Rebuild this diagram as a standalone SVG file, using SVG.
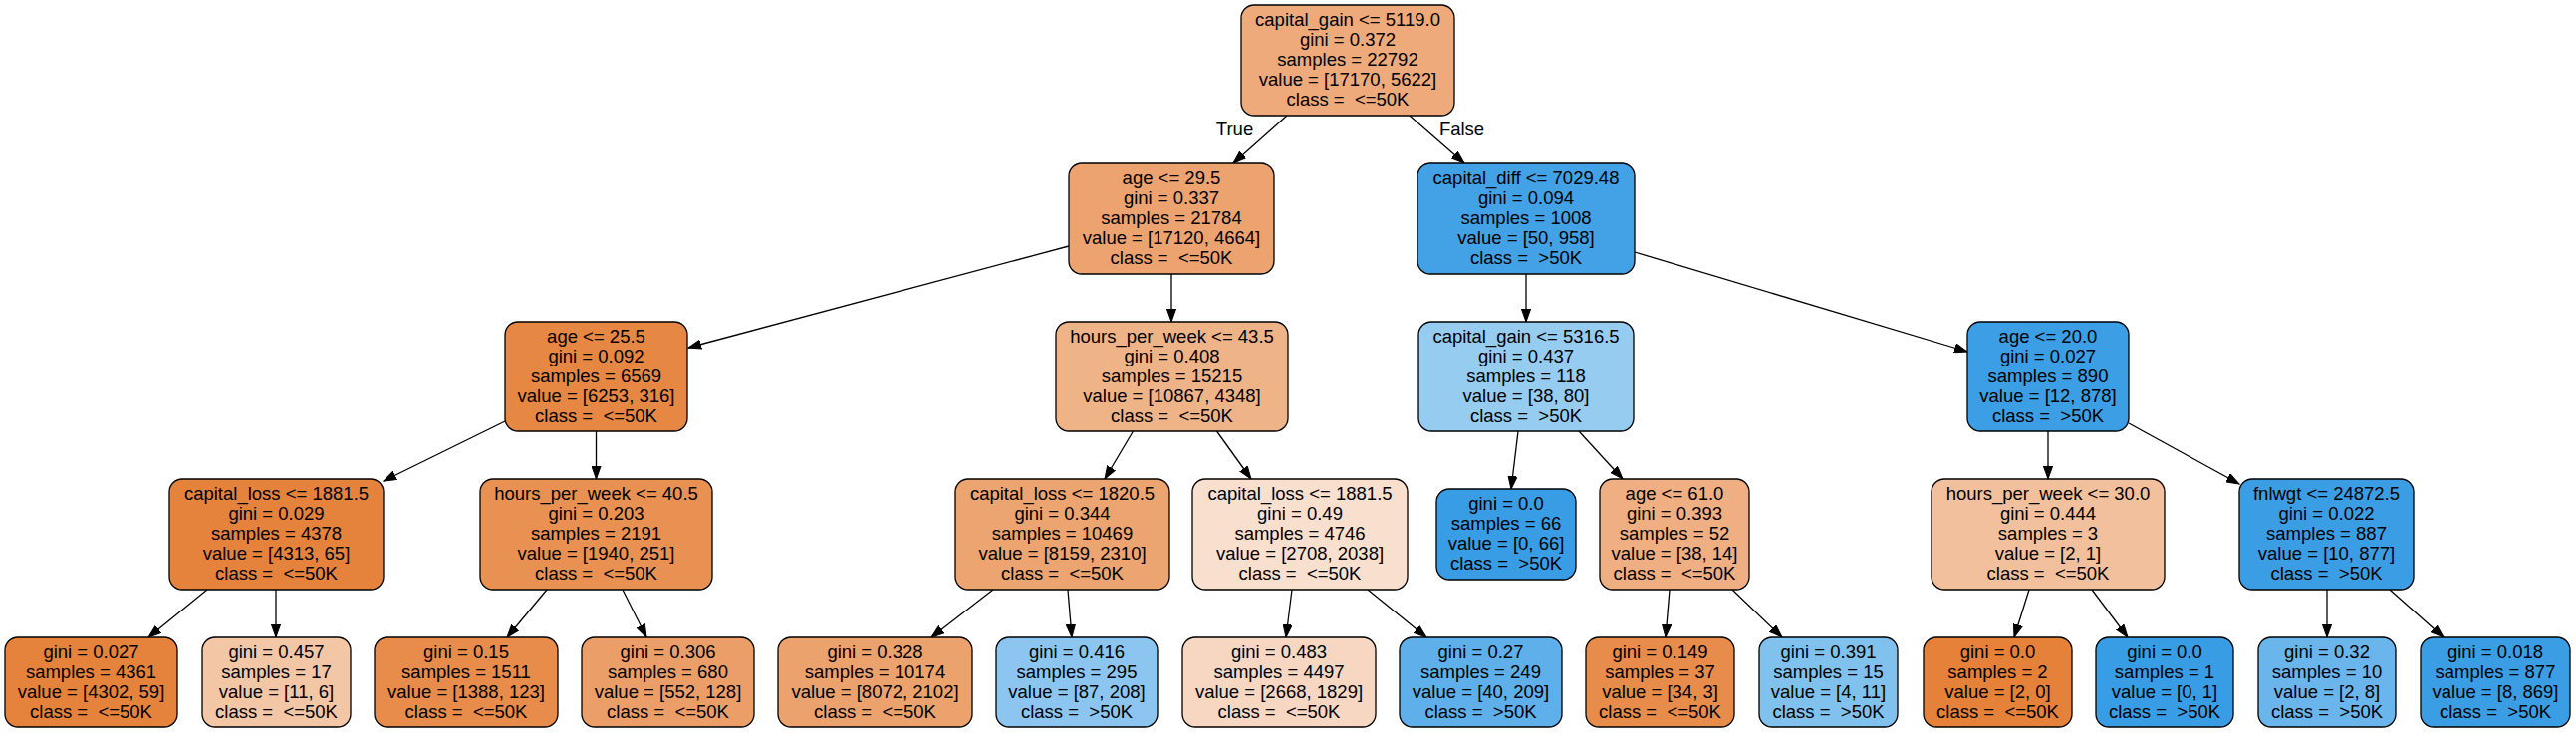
<svg xmlns="http://www.w3.org/2000/svg" width="2586" height="736" viewBox="0 0 2586 736">
<defs>
<style>
.n rect{stroke:#000;stroke-width:1.3}
text{font-family:"Liberation Sans",Arial,Helvetica,sans-serif;font-size:18.5px;text-anchor:middle;fill:#000;white-space:pre}
#edges line{stroke:#000;stroke-width:1.3;marker-end:url(#ah)}
</style>
<marker id="ah" markerUnits="userSpaceOnUse" markerWidth="14" markerHeight="10" viewBox="0 -5 14 10" refX="13" refY="0" orient="auto">
<path d="M0,-4.6 L13,0 L0,4.6 z" fill="#000" stroke="#000" stroke-width="1"/>
</marker>
</defs>
<rect width="2586" height="736" fill="#fff"/>
<g id="edges">
<line x1="1292" y1="116" x2="1238" y2="164"/>
<line x1="1415" y1="116" x2="1470" y2="164"/>
<line x1="1073" y1="247" x2="691" y2="349"/>
<line x1="1176" y1="275" x2="1176" y2="323"/>
<line x1="1532" y1="275" x2="1532" y2="323"/>
<line x1="1641" y1="253" x2="1975" y2="353"/>
<line x1="507" y1="423" x2="385" y2="483"/>
<line x1="598.5" y1="433" x2="598.5" y2="481"/>
<line x1="1137.5" y1="433" x2="1109" y2="481"/>
<line x1="1221.5" y1="433" x2="1256" y2="481"/>
<line x1="1524" y1="433" x2="1517" y2="491"/>
<line x1="1585" y1="433" x2="1629" y2="481"/>
<line x1="2056" y1="433" x2="2056" y2="481"/>
<line x1="2137" y1="425" x2="2248" y2="486"/>
<line x1="208" y1="592" x2="149" y2="640"/>
<line x1="277" y1="592" x2="277" y2="640"/>
<line x1="549" y1="592" x2="509" y2="640"/>
<line x1="625" y1="592" x2="649" y2="640"/>
<line x1="997" y1="592" x2="935" y2="640"/>
<line x1="1072" y1="592" x2="1076" y2="640"/>
<line x1="1297" y1="592" x2="1291" y2="640"/>
<line x1="1373" y1="592" x2="1432" y2="640"/>
<line x1="1676" y1="592" x2="1672" y2="640"/>
<line x1="1739" y1="592" x2="1789" y2="640"/>
<line x1="2037" y1="592" x2="2022" y2="640"/>
<line x1="2100" y1="592" x2="2136" y2="640"/>
<line x1="2336" y1="592" x2="2336" y2="640"/>
<line x1="2399" y1="592" x2="2453" y2="640"/>
<text x="1239.5" y="136">True</text>
<text x="1467.5" y="136">False</text>
</g>
<g id="n0" class="n"><rect x="1246" y="5" width="214" height="111" rx="13" fill="#eeaa7a"/>
<text><tspan x="1353" y="26">capital_gain &lt;= 5119.0</tspan><tspan x="1353" y="46">gini = 0.372</tspan><tspan x="1353" y="66">samples = 22792</tspan><tspan x="1353" y="86">value = [17170, 5622]</tspan><tspan x="1353" y="106">class =  &lt;=50K</tspan></text></g>
<g id="n1" class="n"><rect x="1073" y="164" width="206" height="111" rx="13" fill="#eca36f"/>
<text><tspan x="1176" y="185">age &lt;= 29.5</tspan><tspan x="1176" y="205">gini = 0.337</tspan><tspan x="1176" y="225">samples = 21784</tspan><tspan x="1176" y="245">value = [17120, 4664]</tspan><tspan x="1176" y="265">class =  &lt;=50K</tspan></text></g>
<g id="n2" class="n"><rect x="1423" y="164" width="218" height="111" rx="13" fill="#43a2e6"/>
<text><tspan x="1532" y="185">capital_diff &lt;= 7029.48</tspan><tspan x="1532" y="205">gini = 0.094</tspan><tspan x="1532" y="225">samples = 1008</tspan><tspan x="1532" y="245">value = [50, 958]</tspan><tspan x="1532" y="265">class =  &gt;50K</tspan></text></g>
<g id="n3" class="n"><rect x="507" y="323" width="183" height="110" rx="13" fill="#e68743"/>
<text><tspan x="598.5" y="344">age &lt;= 25.5</tspan><tspan x="598.5" y="364">gini = 0.092</tspan><tspan x="598.5" y="384">samples = 6569</tspan><tspan x="598.5" y="404">value = [6253, 316]</tspan><tspan x="598.5" y="424">class =  &lt;=50K</tspan></text></g>
<g id="n4" class="n"><rect x="1060" y="323" width="233" height="110" rx="13" fill="#efb388"/>
<text><tspan x="1176.5" y="344">hours_per_week &lt;= 43.5</tspan><tspan x="1176.5" y="364">gini = 0.408</tspan><tspan x="1176.5" y="384">samples = 15215</tspan><tspan x="1176.5" y="404">value = [10867, 4348]</tspan><tspan x="1176.5" y="424">class =  &lt;=50K</tspan></text></g>
<g id="n5" class="n"><rect x="1424" y="323" width="216" height="110" rx="13" fill="#97ccf1"/>
<text><tspan x="1532" y="344">capital_gain &lt;= 5316.5</tspan><tspan x="1532" y="364">gini = 0.437</tspan><tspan x="1532" y="384">samples = 118</tspan><tspan x="1532" y="404">value = [38, 80]</tspan><tspan x="1532" y="424">class =  &gt;50K</tspan></text></g>
<g id="n6" class="n"><rect x="1975" y="323" width="162" height="110" rx="13" fill="#3c9ee5"/>
<text><tspan x="2056" y="344">age &lt;= 20.0</tspan><tspan x="2056" y="364">gini = 0.027</tspan><tspan x="2056" y="384">samples = 890</tspan><tspan x="2056" y="404">value = [12, 878]</tspan><tspan x="2056" y="424">class =  &gt;50K</tspan></text></g>
<g id="n7" class="n"><rect x="170" y="481" width="215" height="111" rx="13" fill="#e5833c"/>
<text><tspan x="277.5" y="502">capital_loss &lt;= 1881.5</tspan><tspan x="277.5" y="522">gini = 0.029</tspan><tspan x="277.5" y="542">samples = 4378</tspan><tspan x="277.5" y="562">value = [4313, 65]</tspan><tspan x="277.5" y="582">class =  &lt;=50K</tspan></text></g>
<g id="n8" class="n"><rect x="482" y="481" width="233" height="111" rx="13" fill="#e89153"/>
<text><tspan x="598.5" y="502">hours_per_week &lt;= 40.5</tspan><tspan x="598.5" y="522">gini = 0.203</tspan><tspan x="598.5" y="542">samples = 2191</tspan><tspan x="598.5" y="562">value = [1940, 251]</tspan><tspan x="598.5" y="582">class =  &lt;=50K</tspan></text></g>
<g id="n9" class="n"><rect x="959" y="481" width="215" height="111" rx="13" fill="#eca571"/>
<text><tspan x="1066.5" y="502">capital_loss &lt;= 1820.5</tspan><tspan x="1066.5" y="522">gini = 0.344</tspan><tspan x="1066.5" y="542">samples = 10469</tspan><tspan x="1066.5" y="562">value = [8159, 2310]</tspan><tspan x="1066.5" y="582">class =  &lt;=50K</tspan></text></g>
<g id="n10" class="n"><rect x="1197" y="481" width="216" height="111" rx="13" fill="#f9e0ce"/>
<text><tspan x="1305" y="502">capital_loss &lt;= 1881.5</tspan><tspan x="1305" y="522">gini = 0.49</tspan><tspan x="1305" y="542">samples = 4746</tspan><tspan x="1305" y="562">value = [2708, 2038]</tspan><tspan x="1305" y="582">class =  &lt;=50K</tspan></text></g>
<g id="n11" class="n"><rect x="1442" y="491" width="140" height="91" rx="13" fill="#399de5"/>
<text><tspan x="1512" y="512">gini = 0.0</tspan><tspan x="1512" y="532">samples = 66</tspan><tspan x="1512" y="552">value = [0, 66]</tspan><tspan x="1512" y="572">class =  &gt;50K</tspan></text></g>
<g id="n12" class="n"><rect x="1606" y="481" width="150" height="111" rx="13" fill="#efaf82"/>
<text><tspan x="1681" y="502">age &lt;= 61.0</tspan><tspan x="1681" y="522">gini = 0.393</tspan><tspan x="1681" y="542">samples = 52</tspan><tspan x="1681" y="562">value = [38, 14]</tspan><tspan x="1681" y="582">class =  &lt;=50K</tspan></text></g>
<g id="n13" class="n"><rect x="1939" y="481" width="234" height="111" rx="13" fill="#f2c09c"/>
<text><tspan x="2056" y="502">hours_per_week &lt;= 30.0</tspan><tspan x="2056" y="522">gini = 0.444</tspan><tspan x="2056" y="542">samples = 3</tspan><tspan x="2056" y="562">value = [2, 1]</tspan><tspan x="2056" y="582">class =  &lt;=50K</tspan></text></g>
<g id="n14" class="n"><rect x="2248" y="481" width="175" height="111" rx="13" fill="#3b9ee5"/>
<text><tspan x="2335.5" y="502">fnlwgt &lt;= 24872.5</tspan><tspan x="2335.5" y="522">gini = 0.022</tspan><tspan x="2335.5" y="542">samples = 887</tspan><tspan x="2335.5" y="562">value = [10, 877]</tspan><tspan x="2335.5" y="582">class =  &gt;50K</tspan></text></g>
<g id="n15" class="n"><rect x="5" y="640" width="173" height="90" rx="13" fill="#e5833c"/>
<text><tspan x="91.5" y="661">gini = 0.027</tspan><tspan x="91.5" y="681">samples = 4361</tspan><tspan x="91.5" y="701">value = [4302, 59]</tspan><tspan x="91.5" y="721">class =  &lt;=50K</tspan></text></g>
<g id="n16" class="n"><rect x="203" y="640" width="149" height="90" rx="13" fill="#f3c6a5"/>
<text><tspan x="277.5" y="661">gini = 0.457</tspan><tspan x="277.5" y="681">samples = 17</tspan><tspan x="277.5" y="701">value = [11, 6]</tspan><tspan x="277.5" y="721">class =  &lt;=50K</tspan></text></g>
<g id="n17" class="n"><rect x="376" y="640" width="184" height="90" rx="13" fill="#e78c4b"/>
<text><tspan x="468" y="661">gini = 0.15</tspan><tspan x="468" y="681">samples = 1511</tspan><tspan x="468" y="701">value = [1388, 123]</tspan><tspan x="468" y="721">class =  &lt;=50K</tspan></text></g>
<g id="n18" class="n"><rect x="584" y="640" width="173" height="90" rx="13" fill="#eb9e67"/>
<text><tspan x="670.5" y="661">gini = 0.306</tspan><tspan x="670.5" y="681">samples = 680</tspan><tspan x="670.5" y="701">value = [552, 128]</tspan><tspan x="670.5" y="721">class =  &lt;=50K</tspan></text></g>
<g id="n19" class="n"><rect x="781" y="640" width="195" height="90" rx="13" fill="#eca26d"/>
<text><tspan x="878.5" y="661">gini = 0.328</tspan><tspan x="878.5" y="681">samples = 10174</tspan><tspan x="878.5" y="701">value = [8072, 2102]</tspan><tspan x="878.5" y="721">class =  &lt;=50K</tspan></text></g>
<g id="n20" class="n"><rect x="1000" y="640" width="162" height="90" rx="13" fill="#8cc6f0"/>
<text><tspan x="1081" y="661">gini = 0.416</tspan><tspan x="1081" y="681">samples = 295</tspan><tspan x="1081" y="701">value = [87, 208]</tspan><tspan x="1081" y="721">class =  &gt;50K</tspan></text></g>
<g id="n21" class="n"><rect x="1187" y="640" width="194" height="90" rx="13" fill="#f7d7c1"/>
<text><tspan x="1284" y="661">gini = 0.483</tspan><tspan x="1284" y="681">samples = 4497</tspan><tspan x="1284" y="701">value = [2668, 1829]</tspan><tspan x="1284" y="721">class =  &lt;=50K</tspan></text></g>
<g id="n22" class="n"><rect x="1405" y="640" width="163" height="90" rx="13" fill="#5fb0ea"/>
<text><tspan x="1486.5" y="661">gini = 0.27</tspan><tspan x="1486.5" y="681">samples = 249</tspan><tspan x="1486.5" y="701">value = [40, 209]</tspan><tspan x="1486.5" y="721">class =  &gt;50K</tspan></text></g>
<g id="n23" class="n"><rect x="1592" y="640" width="149" height="90" rx="13" fill="#e78c4a"/>
<text><tspan x="1666.5" y="661">gini = 0.149</tspan><tspan x="1666.5" y="681">samples = 37</tspan><tspan x="1666.5" y="701">value = [34, 3]</tspan><tspan x="1666.5" y="721">class =  &lt;=50K</tspan></text></g>
<g id="n24" class="n"><rect x="1766" y="640" width="139" height="90" rx="13" fill="#81c1ee"/>
<text><tspan x="1835.5" y="661">gini = 0.391</tspan><tspan x="1835.5" y="681">samples = 15</tspan><tspan x="1835.5" y="701">value = [4, 11]</tspan><tspan x="1835.5" y="721">class =  &gt;50K</tspan></text></g>
<g id="n25" class="n"><rect x="1931" y="640" width="149" height="90" rx="13" fill="#e58139"/>
<text><tspan x="2005.5" y="661">gini = 0.0</tspan><tspan x="2005.5" y="681">samples = 2</tspan><tspan x="2005.5" y="701">value = [2, 0]</tspan><tspan x="2005.5" y="721">class =  &lt;=50K</tspan></text></g>
<g id="n26" class="n"><rect x="2104" y="640" width="138" height="90" rx="13" fill="#399de5"/>
<text><tspan x="2173" y="661">gini = 0.0</tspan><tspan x="2173" y="681">samples = 1</tspan><tspan x="2173" y="701">value = [0, 1]</tspan><tspan x="2173" y="721">class =  &gt;50K</tspan></text></g>
<g id="n27" class="n"><rect x="2267" y="640" width="138" height="90" rx="13" fill="#6ab5eb"/>
<text><tspan x="2336" y="661">gini = 0.32</tspan><tspan x="2336" y="681">samples = 10</tspan><tspan x="2336" y="701">value = [2, 8]</tspan><tspan x="2336" y="721">class =  &gt;50K</tspan></text></g>
<g id="n28" class="n"><rect x="2430" y="640" width="150" height="90" rx="13" fill="#3b9ee5"/>
<text><tspan x="2505" y="661">gini = 0.018</tspan><tspan x="2505" y="681">samples = 877</tspan><tspan x="2505" y="701">value = [8, 869]</tspan><tspan x="2505" y="721">class =  &gt;50K</tspan></text></g>
</svg>
